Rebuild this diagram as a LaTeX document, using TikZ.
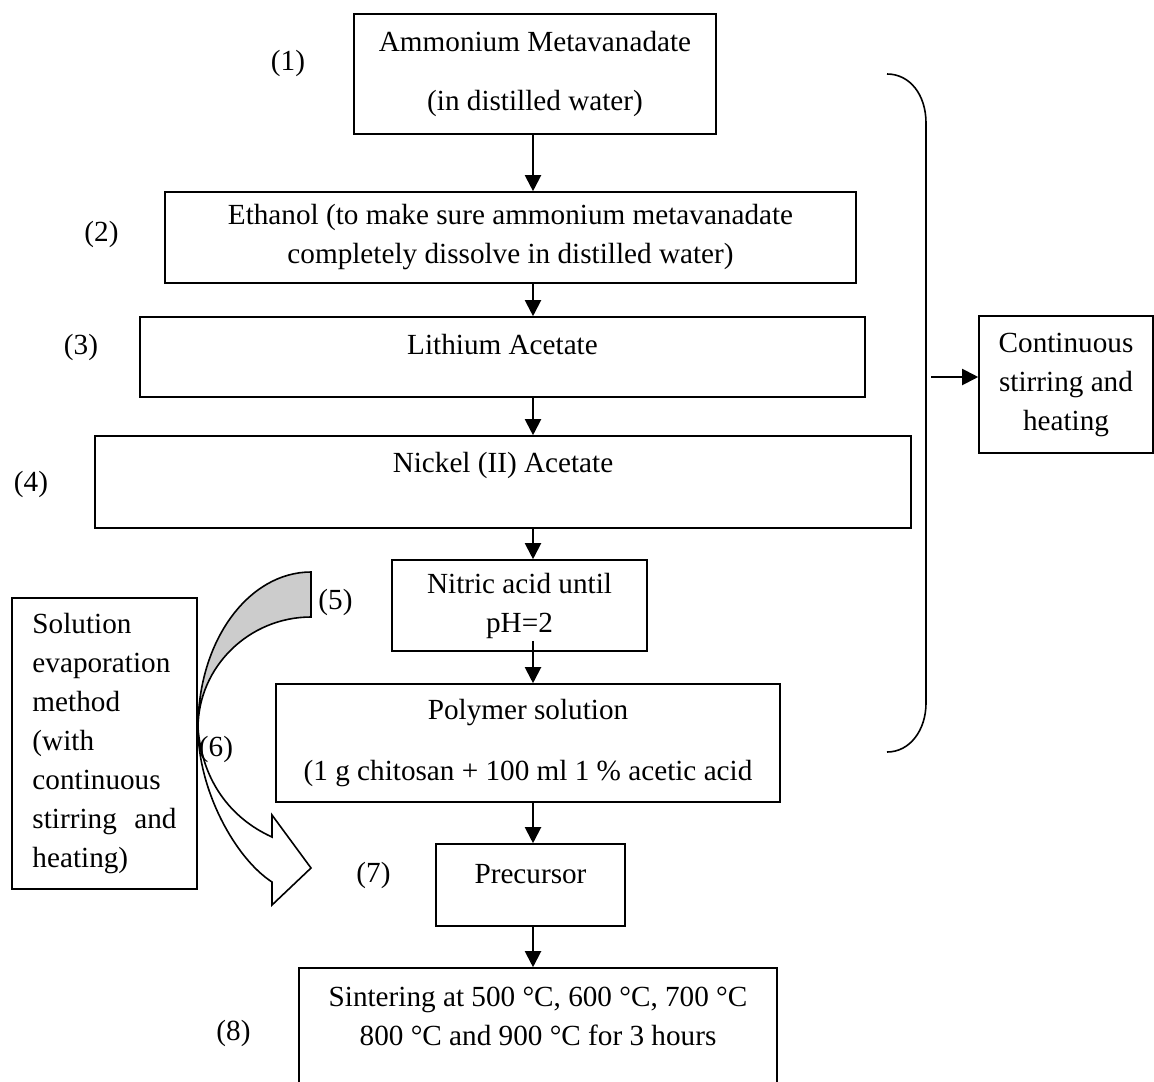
\documentclass[tikz,border=0pt]{standalone}
\usepackage{fontspec}
\setmainfont{Liberation Serif}
\usetikzlibrary{arrows.meta, positioning}

\tikzset{
  stepbox/.style={draw, line width=0.8pt, rectangle, align=center, inner sep=0pt},
  steplabel/.style={inner sep=0pt},
  flowarrow/.style={line width=1pt, -{Triangle[length=8pt,width=8pt]}}
}

\begin{document}
\begin{tikzpicture}[x=0.5pt, y=-0.5pt, font=\fontsize{14.6}{19.5}\selectfont]
    \useasboundingbox (0,0) rectangle (1154,1081);

    % main steps
    \node[stepbox, minimum width=181pt, minimum height=60pt] (amm) at (535,74)
      {Ammonium Metavanadate\\[10pt](in distilled water)};
    \node[stepbox, minimum width=345.5pt, minimum height=45.5pt] (eth) at (510.5,237.5)
      {Ethanol (to make sure ammonium metavanadate\\completely dissolve in distilled water)};
    \node[stepbox, minimum width=362.5pt, text height=18.5pt, text depth=21.5pt] (lith) at (502.5,357)
      {Lithium Acetate};
    \node[stepbox, minimum width=408pt, text height=18pt, text depth=28pt] (nick) at (503,482)
      {Nickel (II) Acetate};
    \node[stepbox, minimum width=127.5pt, minimum height=45.5pt] (nitr) at (519.5,605.5)
      {Nitric acid until\\pH=2};
    \node[stepbox, minimum width=252pt, minimum height=59pt] (poly) at (528,743)
      {Polymer solution\\[11pt](1 g chitosan + 100 ml 1 \% acetic acid};
    \node[stepbox, minimum width=94.5pt, text height=19.5pt, text depth=21.5pt] (prec) at (530.5,885)
      {Precursor};
    \node[stepbox, minimum width=239pt, minimum height=74pt] (sint) at (538,1042)
      {Sintering at 500 °C, 600 °C, 700 °C\\800 °C and 900 °C for 3 hours\\\strut};

    % side boxes
    \node[stepbox, align=left, text width=72pt, inner xsep=10.25pt, minimum height=145.5pt] (soln) at (104.5,743.5)
      {Solution\\evaporation\\method\\(with\\continuous\\stirring\hfill and\\heating)};
    \node[stepbox, minimum width=87pt, minimum height=68.5pt] (cont) at (1066,384.5)
      {Continuous\\stirring and\\heating};

    % step numbers
    \node[steplabel] (n1) at (288,63) {(1)};
    \node[steplabel] (n2) at (101.5,234) {(2)};
    \node[steplabel] (n3) at (81,347) {(3)};
    \node[steplabel] (n4) at (31,484) {(4)};
    \node[steplabel] (n5) at (335.5,602) {(5)};
    \node[steplabel] (n7) at (373.5,875) {(7)};
    \node[steplabel] (n8) at (233.5,1033) {(8)};

    % arrows down the middle
    \coordinate (col) at (533,0);
    \draw[flowarrow] (amm.south -| col) -- (eth.north -| col);
    \draw[flowarrow] (eth.south -| col) -- (lith.north -| col);
    \draw[flowarrow] (lith.south -| col) -- (nick.north -| col);
    \draw[flowarrow] (nick.south -| col) -- (nitr.north -| col);
    \draw[flowarrow] (nitr.south -| col) ++(0,-11) -- (poly.north -| col);
    \draw[flowarrow] (poly.south -| col) -- (prec.north -| col);
    \draw[flowarrow] (prec.south -| col) -- (sint.north -| col);

    % curved arrow
    \coordinate (touch) at (198,728);
    \draw[line width=0.8pt, fill=black!20]
      (311,572) .. controls (249,572) and (198,640) .. (touch)
      .. controls (198,667) and (249,617) .. (311,617) -- cycle;
    \draw[line width=0.8pt, fill=white, line join=miter]
      (touch) .. controls (198,790) and (235,858) .. (272,882)
      -- (272,905) -- (311,868) -- (272,815) -- (272,837)
      .. controls (230,818) and (202,780) .. (touch) -- cycle;
    \node[steplabel] (n6) at (216,749) {(6)};

    % bracket
    \draw[line width=0.8pt] (887,74) .. controls (910,74) and (926,95) .. (926,123)
      -- (926,703) .. controls (926,730) and (910,752) .. (887,752);
    \coordinate (brk) at (931,377);
    \draw[flowarrow] (brk) -- (brk -| cont.west);
\end{tikzpicture}
\end{document}
